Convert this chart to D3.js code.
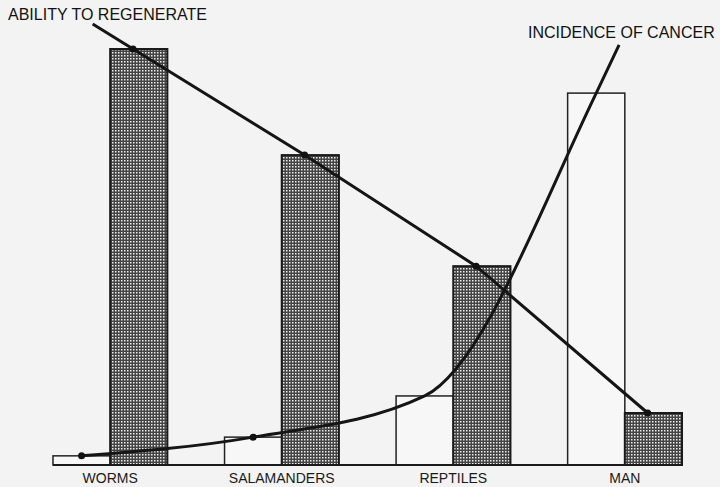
<!DOCTYPE html>
<html>
<head>
<meta charset="utf-8">
<script src="https://cdn.jsdelivr.net/npm/d3@7"></script>
<style>
  html, body { margin: 0; padding: 0; background: #f3f3f3; }
  svg { display: block; }
</style>
</head>
<body>
<svg id="chart" width="720" height="487"></svg>
<script>
// ---- data ----
const categories = ["WORMS", "SALAMANDERS", "REPTILES", "MAN"];
const cancerIncidence = [2.2, 6.7, 16.6, 89.4];      // white bars
const abilityToRegenerate = [100, 74.5, 47.8, 12.5]; // shaded bars
const seriesLabels = ["ABILITY TO REGENERATE", "INCIDENCE OF CANCER"];
const abilityLeaderValue = 106;   // where the regeneration line runs to its label
const cancerLeaderValue = 101;    // where the cancer curve runs to its label

// ---- layout ----
const W = 720, H = 487;
const svg = d3.select("#chart");
svg.append("rect").attr("width", W).attr("height", H).attr("fill", "#f3f3f3");

const baseY = 465, topY = 49;
const x = d3.scaleBand().domain(categories).range([53, 682]).paddingInner(1/3).paddingOuter(0);
const bw = x.bandwidth() / 2;
const y = d3.scaleLinear().domain([0, 100]).range([baseY, topY]);

// hatch pattern
const defs = svg.append("defs");
const pat = defs.append("pattern").attr("id", "dots").attr("patternUnits", "userSpaceOnUse")
  .attr("width", 3).attr("height", 3);
pat.append("rect").attr("width", 3).attr("height", 3).attr("fill", "#444");
pat.append("rect").attr("x", 1).attr("y", 1).attr("width", 1.5).attr("height", 1.5).attr("fill", "#ececec");

// white bars (cancer)
svg.selectAll("rect.cancer").data(categories).join("rect")
  .attr("class", "cancer")
  .attr("x", d => x(d))
  .attr("y", (d, i) => y(cancerIncidence[i]))
  .attr("width", bw)
  .attr("height", (d, i) => baseY - y(cancerIncidence[i]))
  .attr("fill", "#f7f7f7").attr("stroke", "#222").attr("stroke-width", 1.5);

// shaded bars (regeneration)
svg.selectAll("rect.regen").data(categories).join("rect")
  .attr("class", "regen")
  .attr("x", d => x(d) + bw)
  .attr("y", (d, i) => y(abilityToRegenerate[i]))
  .attr("width", bw)
  .attr("height", (d, i) => baseY - y(abilityToRegenerate[i]))
  .attr("fill", "url(#dots)").attr("stroke", "#1a1a1a").attr("stroke-width", 2);

// baseline
svg.append("line")
  .attr("x1", x.range()[0]).attr("x2", x.range()[1] + 1)
  .attr("y1", baseY).attr("y2", baseY)
  .attr("stroke", "#1a1a1a").attr("stroke-width", 2);

// regeneration line points
const regenPts = categories.map((c, i) => [x(c) + bw + bw * 0.4, y(abilityToRegenerate[i])]);
// extend first segment up to the label
const p0 = regenPts[0], p1 = regenPts[1];
const ly = y(abilityLeaderValue);
const lx = p0[0] + (p1[0] - p0[0]) * (ly - p0[1]) / (p1[1] - p0[1]);
const regenLine = [[lx, ly]].concat(regenPts);
svg.append("path")
  .attr("d", d3.line()(regenLine))
  .attr("fill", "none").attr("stroke", "#151515").attr("stroke-width", 3);
svg.selectAll("circle.regen").data(regenPts).join("circle")
  .attr("class", "regen").attr("cx", d => d[0]).attr("cy", d => d[1]).attr("r", 3.5).attr("fill", "#111");

// cancer curve
const cancerPts = categories.map((c, i) => [x(c) + bw * 0.5, y(cancerIncidence[i])]);
const last = categories[categories.length - 1];
const cancerLine = cancerPts.concat([[x(last) + bw * 0.9, y(cancerLeaderValue)]]);
svg.append("path")
  .attr("d", d3.line().curve(d3.curveMonotoneX)(cancerLine))
  .attr("fill", "none").attr("stroke", "#151515").attr("stroke-width", 3);
svg.selectAll("circle.cancer").data(cancerPts.slice(0, 2)).join("circle")
  .attr("class", "cancer").attr("cx", d => d[0]).attr("cy", d => d[1]).attr("r", 3.5).attr("fill", "#111");

// category labels
svg.selectAll("text.cat").data(categories).join("text")
  .attr("class", "cat")
  .attr("x", d => x(d) + x.bandwidth() / 2)
  .attr("y", 483)
  .attr("text-anchor", "middle")
  .attr("font-family", "Liberation Sans, Arial, sans-serif")
  .attr("font-size", 14).attr("fill", "#1a1a1a")
  .text(d => d);

// series labels
svg.append("text").attr("x", 8).attr("y", 20)
  .attr("font-family", "Liberation Sans, Arial, sans-serif")
  .attr("font-size", 16).attr("fill", "#111")
  .text(seriesLabels[0]);
svg.append("text").attr("x", 528).attr("y", 38)
  .attr("font-family", "Liberation Sans, Arial, sans-serif")
  .attr("font-size", 16).attr("fill", "#111")
  .text(seriesLabels[1]);
</script>
</body>
</html>
